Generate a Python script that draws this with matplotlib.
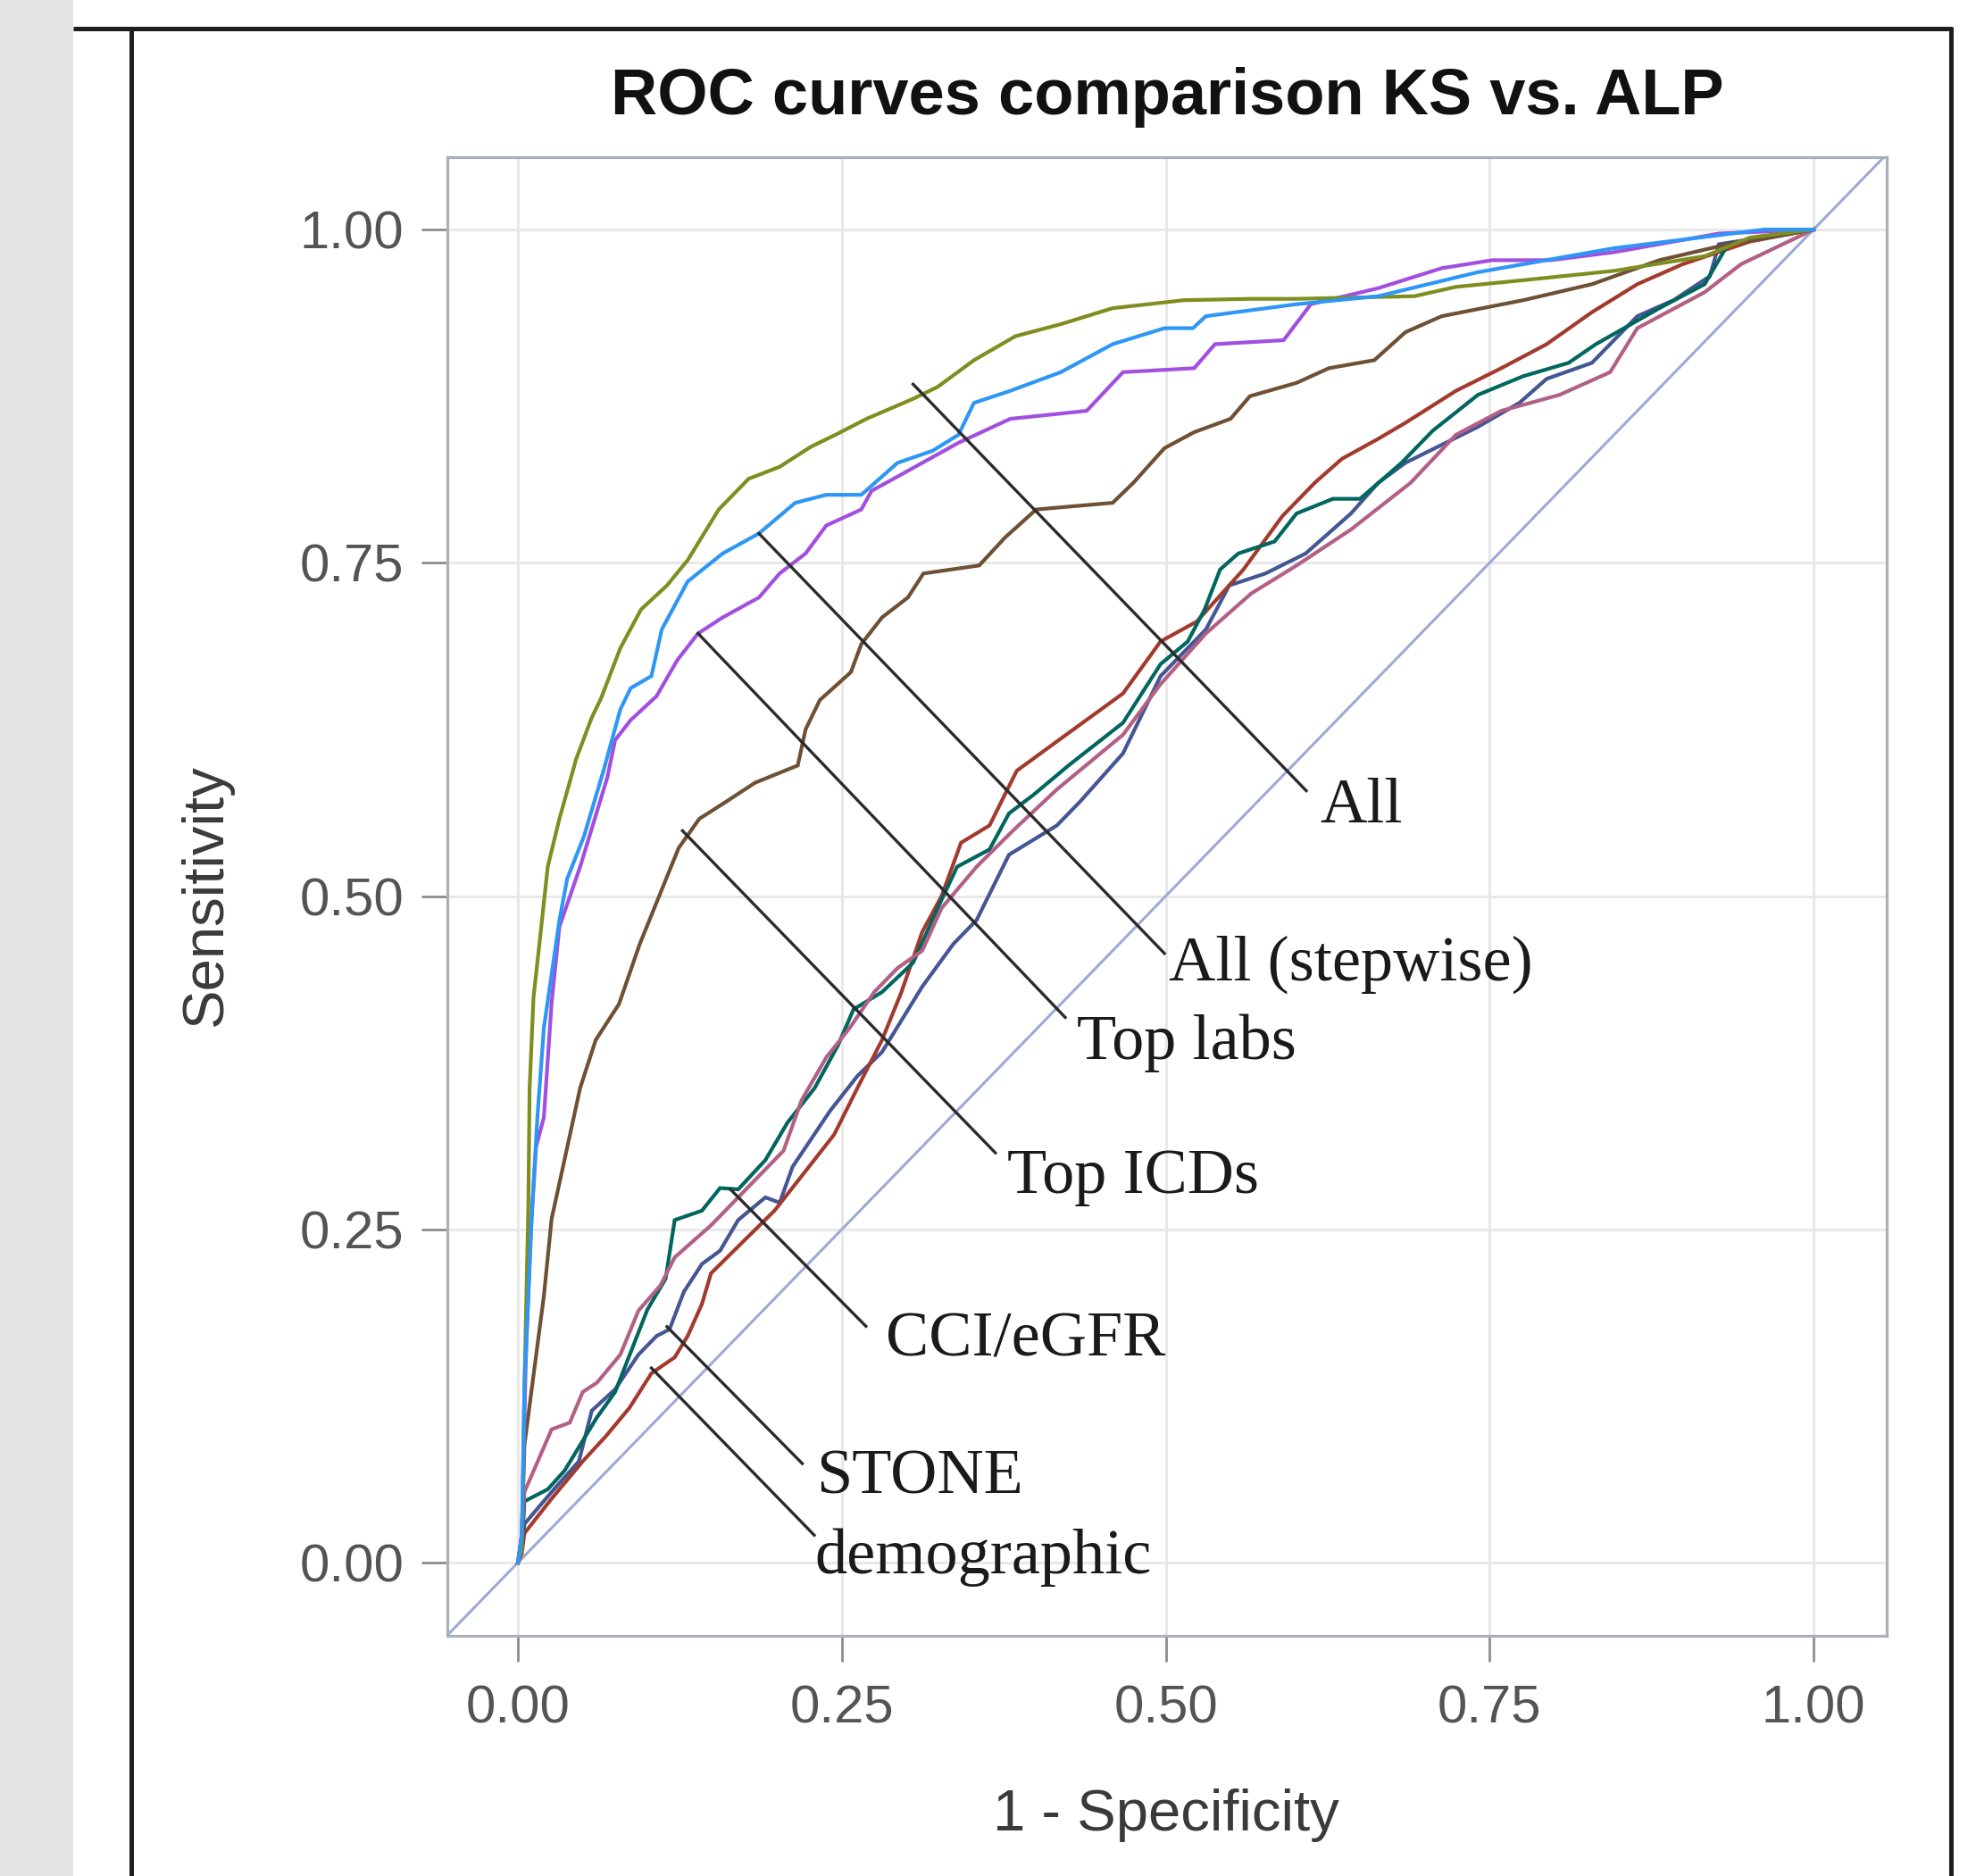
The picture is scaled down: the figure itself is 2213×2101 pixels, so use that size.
import matplotlib
matplotlib.use("Agg")
import matplotlib.pyplot as plt
from matplotlib import font_manager
from matplotlib.lines import Line2D
from matplotlib.patches import Rectangle

# ---------------- data ----------------
title = "ROC curves comparison KS vs. ALP"
x_label = "1 - Specificity"
y_label = "Sensitivity"
tick_values = [0.0, 0.25, 0.5, 0.75, 1.0]
tick_labels = ["0.00", "0.25", "0.50", "0.75", "1.00"]

# All (olive)
all_x = [0, 0.003, 0.005, 0.008, 0.009, 0.012, 0.017, 0.023, 0.032, 0.045, 0.057, 0.064,
         0.079, 0.095, 0.115, 0.131, 0.155, 0.178, 0.202, 0.226, 0.245, 0.269, 0.305, 0.324,
         0.352, 0.384, 0.419, 0.459, 0.514, 0.565, 0.601, 0.692, 0.724, 0.776, 0.846, 0.916,
         0.951, 1.0]
all_y = [0, 0.010, 0.133, 0.267, 0.356, 0.424, 0.468, 0.522, 0.558, 0.603, 0.634, 0.648,
         0.686, 0.715, 0.733, 0.752, 0.790, 0.813, 0.822, 0.837, 0.846, 0.858, 0.873, 0.882,
         0.902, 0.920, 0.929, 0.941, 0.947, 0.948, 0.948, 0.950, 0.957, 0.962, 0.969, 0.980,
         0.994, 1.0]

# All (stepwise) (light blue)
step_x = [0, 0.003, 0.005, 0.011, 0.015, 0.020, 0.032, 0.038, 0.051, 0.066, 0.079, 0.087,
          0.103, 0.111, 0.131, 0.158, 0.186, 0.214, 0.238, 0.265, 0.293, 0.320, 0.340, 0.352,
          0.380, 0.419, 0.459, 0.499, 0.521, 0.531, 0.601, 0.664, 0.741, 0.846, 0.962, 1.0]
step_y = [0, 0.020, 0.133, 0.267, 0.334, 0.401, 0.482, 0.513, 0.545, 0.594, 0.640, 0.656,
          0.665, 0.700, 0.736, 0.757, 0.772, 0.795, 0.801, 0.801, 0.825, 0.834, 0.846, 0.870,
          0.879, 0.893, 0.914, 0.926, 0.926, 0.935, 0.944, 0.950, 0.968, 0.986, 1.0, 1.0]

# Top labs (purple)
labs_x = [0, 0.003, 0.006, 0.010, 0.014, 0.020, 0.026, 0.032, 0.048, 0.069, 0.075, 0.087,
          0.107, 0.123, 0.139, 0.158, 0.186, 0.202, 0.222, 0.238, 0.265, 0.273, 0.301, 0.340,
          0.380, 0.439, 0.467, 0.522, 0.538, 0.591, 0.612, 0.664, 0.713, 0.752, 0.797, 0.846,
          0.927, 1.0]
labs_y = [0, 0.020, 0.150, 0.250, 0.312, 0.334, 0.420, 0.477, 0.522, 0.589, 0.617, 0.632,
          0.650, 0.677, 0.697, 0.709, 0.724, 0.742, 0.757, 0.778, 0.790, 0.804, 0.819, 0.840,
          0.858, 0.864, 0.893, 0.896, 0.914, 0.917, 0.944, 0.956, 0.971, 0.977, 0.977, 0.983,
          0.997, 1.0]

# Top ICDs (brown)
icd_x = [0, 0.003, 0.005, 0.011, 0.020, 0.026, 0.035, 0.048, 0.060, 0.078, 0.094, 0.109,
         0.124, 0.140, 0.161, 0.183, 0.216, 0.222, 0.233, 0.257, 0.265, 0.281, 0.301, 0.313,
         0.356, 0.376, 0.400, 0.459, 0.475, 0.499, 0.522, 0.550, 0.565, 0.601, 0.626, 0.661,
         0.685, 0.713, 0.776, 0.829, 0.881, 0.934, 1.0]
icd_y = [0, 0.021, 0.088, 0.133, 0.200, 0.258, 0.298, 0.356, 0.392, 0.419, 0.464, 0.500,
         0.536, 0.558, 0.571, 0.585, 0.598, 0.625, 0.647, 0.668, 0.689, 0.709, 0.724, 0.742,
         0.748, 0.769, 0.790, 0.795, 0.810, 0.836, 0.848, 0.858, 0.875, 0.885, 0.896, 0.902,
         0.923, 0.935, 0.947, 0.959, 0.977, 0.989, 1.0]

# CCI/eGFR (teal)
cci_x = [0, 0.003, 0.005, 0.023, 0.036, 0.061, 0.075, 0.100, 0.114, 0.121, 0.142, 0.156,
         0.170, 0.191, 0.208, 0.229, 0.247, 0.259, 0.281, 0.305, 0.324, 0.339, 0.364, 0.379,
         0.398, 0.425, 0.467, 0.496, 0.517, 0.530, 0.542, 0.556, 0.584, 0.601, 0.629, 0.650,
         0.682, 0.706, 0.741, 0.776, 0.811, 0.832, 0.881, 0.916, 0.934, 1.0]
cci_y = [0, 0.010, 0.046, 0.055, 0.069, 0.109, 0.128, 0.190, 0.213, 0.257, 0.264, 0.281,
         0.280, 0.302, 0.330, 0.356, 0.388, 0.415, 0.428, 0.450, 0.491, 0.522, 0.535, 0.562,
         0.576, 0.598, 0.630, 0.674, 0.691, 0.715, 0.745, 0.757, 0.766, 0.787, 0.798, 0.798,
         0.825, 0.849, 0.876, 0.890, 0.900, 0.914, 0.941, 0.959, 0.989, 1.0]

# unlabelled model (pink)
pink_x = [0, 0.003, 0.005, 0.026, 0.040, 0.050, 0.061, 0.079, 0.093, 0.110, 0.121, 0.135,
          0.149, 0.163, 0.177, 0.205, 0.219, 0.238, 0.256, 0.275, 0.293, 0.312, 0.327, 0.354,
          0.382, 0.416, 0.467, 0.496, 0.531, 0.566, 0.601, 0.643, 0.689, 0.724, 0.759, 0.804,
          0.843, 0.864, 0.916, 0.944, 1.0]
pink_y = [0, 0.020, 0.053, 0.100, 0.105, 0.128, 0.135, 0.156, 0.189, 0.208, 0.229, 0.241,
          0.253, 0.267, 0.281, 0.309, 0.347, 0.379, 0.401, 0.428, 0.446, 0.459, 0.491, 0.522,
          0.549, 0.580, 0.621, 0.659, 0.697, 0.727, 0.748, 0.775, 0.810, 0.846, 0.864, 0.876,
          0.893, 0.926, 0.953, 0.974, 1.0]

# STONE (slate blue)
stone_x = [0, 0.003, 0.005, 0.026, 0.047, 0.057, 0.075, 0.093, 0.107, 0.117, 0.128, 0.142,
           0.156, 0.170, 0.191, 0.202, 0.212, 0.241, 0.262, 0.281, 0.312, 0.336, 0.354, 0.379,
           0.416, 0.434, 0.467, 0.496, 0.531, 0.549, 0.577, 0.608, 0.643, 0.664, 0.685, 0.741,
           0.773, 0.794, 0.829, 0.864, 0.892, 0.920, 0.927, 1.0]
stone_y = [0, 0.012, 0.029, 0.053, 0.076, 0.114, 0.130, 0.156, 0.170, 0.175, 0.203, 0.224,
           0.234, 0.257, 0.274, 0.270, 0.297, 0.339, 0.365, 0.383, 0.432, 0.464, 0.482, 0.531,
           0.553, 0.571, 0.607, 0.665, 0.700, 0.733, 0.742, 0.757, 0.787, 0.810, 0.825, 0.852,
           0.870, 0.888, 0.900, 0.935, 0.947, 0.965, 0.989, 1.0]

# demographic (red)
demo_x = [0, 0.003, 0.005, 0.026, 0.050, 0.068, 0.086, 0.103, 0.121, 0.131, 0.142, 0.149,
          0.174, 0.198, 0.219, 0.244, 0.262, 0.281, 0.296, 0.312, 0.327, 0.342, 0.364, 0.385,
          0.416, 0.467, 0.496, 0.524, 0.560, 0.590, 0.615, 0.636, 0.664, 0.685, 0.724, 0.759,
          0.794, 0.829, 0.864, 0.899, 0.951, 1.0]
demo_y = [0, 0.007, 0.022, 0.048, 0.076, 0.095, 0.116, 0.142, 0.154, 0.170, 0.194, 0.217,
          0.241, 0.264, 0.290, 0.321, 0.356, 0.392, 0.428, 0.473, 0.500, 0.540, 0.553, 0.594,
          0.616, 0.652, 0.691, 0.706, 0.745, 0.785, 0.810, 0.828, 0.843, 0.855, 0.879, 0.896,
          0.914, 0.938, 0.959, 0.974, 0.991, 1.0]

# annotations: label, point on curve, end of leader line, text anchor (left, baseline)
ann_labels = ["All", "All (stepwise)", "Top labs", "Top ICDs", "CCI/eGFR", "STONE", "demographic"]
ann_start = [(0.305, 0.884), (0.186, 0.772), (0.139, 0.697), (0.127, 0.549),
             (0.164, 0.280), (0.115, 0.177), (0.103, 0.146)]
ann_end = [(0.6085, 0.579), (0.499, 0.457), (0.4224, 0.409), (0.3685, 0.3074),
           (0.2686, 0.1773), (0.2195, 0.0743), (0.2287, 0.0206)]
ann_text = [(0.619, 0.5556), (0.5024, 0.4367), (0.4314, 0.3778), (0.3777, 0.2775),
            (0.284, 0.155), (0.230, 0.0519), (0.2288, -0.008)]

# ---------------- figure ----------------
W, H = 2213, 2101
DPI = 100
fig = plt.figure(figsize=(W / DPI, H / DPI), dpi=DPI)
fig.patch.set_facecolor("white")

SANS = ["Liberation Sans", "DejaVu Sans"]
SERIF = ["Liberation Serif", "DejaVu Serif"]
installed = {f.name for f in font_manager.fontManager.ttflist}
if "Liberation Sans Narrow" in installed:
    TICK_FONT, TICK_SIZE = ["Liberation Sans Narrow", "Liberation Sans", "DejaVu Sans"], 47
else:
    TICK_FONT, TICK_SIZE = SANS, 43

# page decorations
fig.add_artist(Rectangle((0, 0), 82 / W, 1, transform=fig.transFigure,
                         facecolor="#e3e3e3", edgecolor="none", zorder=0))
fig.add_artist(Line2D([82 / W, 2186 / W], [1 - 32 / H, 1 - 32 / H], transform=fig.transFigure,
                      color="#1e1e1e", lw=3.6, solid_capstyle="butt"))
fig.add_artist(Line2D([147 / W, 147 / W], [0, 1 - 32 / H], transform=fig.transFigure,
                      color="#1e1e1e", lw=3.6, solid_capstyle="butt"))
fig.add_artist(Line2D([2185 / W, 2185 / W], [0, 1 - 30 / H], transform=fig.transFigure,
                      color="#1e1e1e", lw=3.6, solid_capstyle="butt"))

ax = fig.add_axes([501 / W, 1 - 1832 / H, (2113 - 501) / W, (1832 - 176) / H])
ax.set_xlim(-0.0545, 1.0565)
ax.set_ylim(-0.0549, 1.0543)
ax.set_xticks(tick_values)
ax.set_xticklabels(tick_labels)
ax.set_yticks(tick_values)
ax.set_yticklabels(tick_labels)
ax.grid(True, color="#e8e8e8", lw=2.2)
ax.set_axisbelow(True)
for s in ax.spines.values():
    s.set_color("#aab0b9")
    s.set_linewidth(2.3)
ax.tick_params(axis="both", length=21, width=2, color="#8c8c8c",
               labelsize=TICK_SIZE, labelcolor="#545454")
ax.tick_params(axis="x", pad=18)
ax.tick_params(axis="y", pad=14)
for lab in ax.get_xticklabels() + ax.get_yticklabels():
    lab.set_family(TICK_FONT)

# reference diagonal
ax.plot([-0.06, 1.07], [-0.06, 1.07], color="#9eaad6", lw=2.2, zorder=2)

series = [
    (stone_x, stone_y, "#445694"),
    (demo_x, demo_y, "#A23A2E"),
    (cci_x, cci_y, "#01665E"),
    (pink_x, pink_y, "#B26084"),
    (icd_x, icd_y, "#6e5034"),
    (labs_x, labs_y, "#A24FE0"),
    (all_x, all_y, "#7F8E1F"),
    (step_x, step_y, "#2E97F5"),
]
for xs, ys, c in series:
    ax.plot(xs, ys, color=c, lw=3.0, zorder=3, solid_joinstyle="miter")

for lab, (x0, y0), (x1, y1), (tx, ty) in zip(ann_labels, ann_start, ann_end, ann_text):
    ax.plot([x0, x1], [y0, y1], color="#2b2b2b", lw=2.4, zorder=5)
    ax.text(tx, ty, lab, family=SERIF, fontsize=52, color="#1a1a1a",
            ha="left", va="baseline", zorder=6)

fig.text(1307 / W, 1 - 128 / H, title, ha="center", va="baseline", fontsize=52,
         fontweight="bold", family=SANS, color="#111111")
fig.text(1306 / W, 1 - 2050 / H, x_label, ha="center", va="baseline", fontsize=47,
         family=SANS, color="#3a3a3a")
fig.text(248 / W, 1 - 1002 / H, y_label, rotation=90, rotation_mode="anchor",
         ha="center", va="baseline", fontsize=47, family=SANS, color="#3a3a3a")

fig.savefig("out.png", dpi=DPI)
